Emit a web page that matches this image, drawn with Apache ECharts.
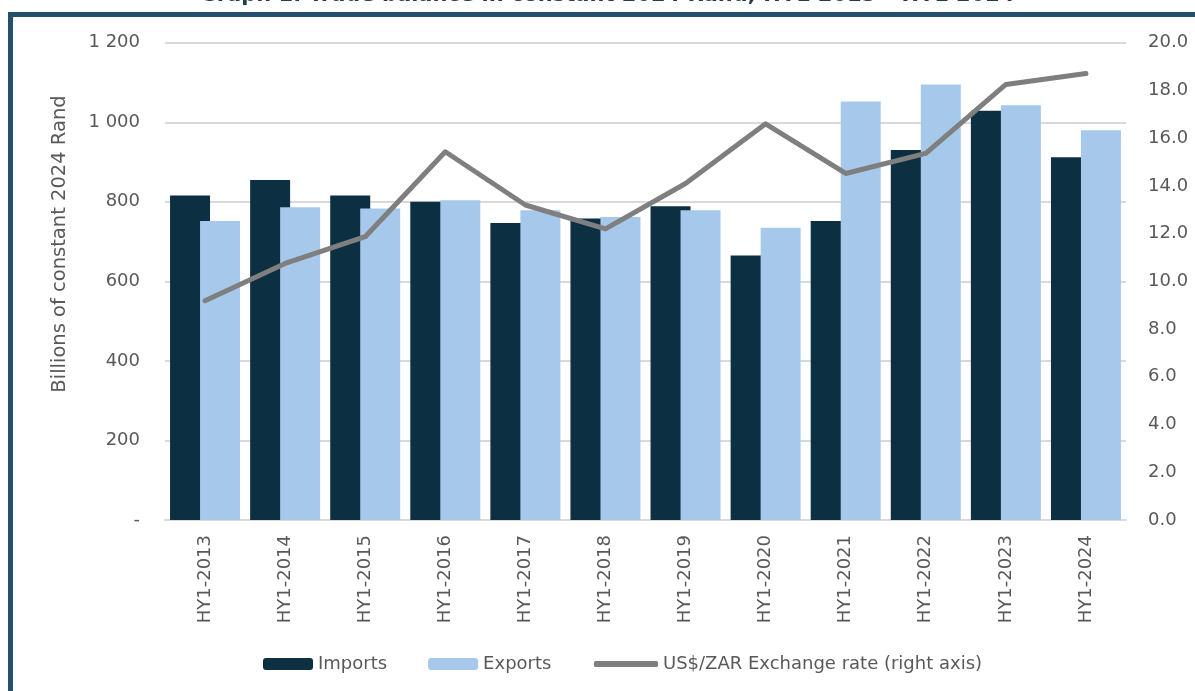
<!DOCTYPE html>
<html>
<head>
<meta charset="utf-8">
<script src="https://cdn.jsdelivr.net/npm/echarts@6/dist/echarts.min.js"></script>
<style>
html,body{margin:0;padding:0;background:#fff;}
#chart{width:1195px;height:691px;}
</style>
</head>
<body>
<div id="chart"></div>
<script>
var categories = ['HY1-2013','HY1-2014','HY1-2015','HY1-2016','HY1-2017','HY1-2018','HY1-2019','HY1-2020','HY1-2021','HY1-2022','HY1-2023','HY1-2024'];
var imports = [816, 855, 816, 800, 747, 758, 789, 665, 752, 930, 1029, 912];
var exports = [752, 786, 783, 804, 779, 762, 779, 735, 1052, 1095, 1043, 980];
var exchangeRate = [9.19, 10.75, 11.87, 15.43, 13.2, 12.2, 14.1, 16.6, 14.52, 15.36, 18.25, 18.71];
var titleText = 'Graph 1: Trade balance in constant 2024 Rand, HY1 2013 \u2013 HY1 2024';
var yAxisName = 'Billions of constant 2024 Rand';
var lineName = 'US$/ZAR Exchange rate (right axis)';

var FONT = 'DejaVu Sans';
var LABEL = '#595959';
var chart = echarts.init(document.getElementById('chart'));
chart.setOption({
  animation: false,
  backgroundColor: '#ffffff',
  textStyle: {fontFamily: FONT},
  graphic: [
    {type: 'rect', z: 100, silent: true,
     shape: {x: 10.5, y: 14.5, width: 1400, height: 900},
     style: {fill: 'none', stroke: '#23506a', lineWidth: 5}},
    {type: 'text', z: 100, x: 607, y: 6,
     style: {text: titleText, fontFamily: FONT, fontWeight: 'bold', fontSize: 21,
             fill: '#203e52', textAlign: 'center', textVerticalAlign: 'bottom'}},
    {type: 'text', z: 100, x: 60, y: 244, rotation: Math.PI / 2,
     style: {text: yAxisName, fontFamily: FONT, fontSize: 19.5,
             fill: LABEL, textAlign: 'center', textVerticalAlign: 'middle'}}
  ],
  grid: {left: 165, right: 69, top: 42.7, bottom: 171, containLabel: false},
  legend: [
    {data: ['Imports', 'Exports'], left: 258, top: 650, itemWidth: 50, itemHeight: 12,
     itemGap: 41, textStyle: {color: LABEL, fontSize: 18, fontFamily: FONT}},
    {data: [{name: lineName, icon: 'roundRect'}], left: 589, top: 650, itemWidth: 64, itemHeight: 6,
     itemStyle: {color: '#7f7f7f', borderWidth: 0},
     textStyle: {color: LABEL, fontSize: 18, fontFamily: FONT}}
  ],
  xAxis: {
    type: 'category', data: categories,
    axisLine: {lineStyle: {color: '#d9d9d9', width: 2}},
    axisTick: {show: false},
    axisLabel: {rotate: 90, color: LABEL, fontSize: 18, margin: 15, fontFamily: FONT}
  },
  yAxis: [
    {type: 'value', min: 0, max: 1200, interval: 200,
     axisLine: {show: false}, axisTick: {show: false},
     splitLine: {lineStyle: {color: '#d9d9d9', width: 2}},
     axisLabel: {color: LABEL, fontSize: 18, margin: 25, fontFamily: FONT,
       formatter: function (v) { return v === 0 ? '-' : String(v).replace(/\B(?=(\d{3})+(?!\d))/g, ' '); }}},
    {type: 'value', min: 0, max: 20, interval: 2, position: 'right',
     axisLine: {show: false}, axisTick: {show: false}, splitLine: {show: false},
     axisLabel: {color: LABEL, fontSize: 18, margin: 22, fontFamily: FONT,
       formatter: function (v) { return v.toFixed(1); }}}
  ],
  series: [
    {name: 'Imports', type: 'bar', data: imports, barWidth: 40, barGap: '-25%',
     itemStyle: {color: '#0c2f42'}},
    {name: 'Exports', type: 'bar', data: exports, barWidth: 40, barGap: '-25%',
     itemStyle: {color: '#a6c9eb'}},
    {name: lineName, type: 'line', yAxisIndex: 1, data: exchangeRate,
     symbol: 'none', z: 5,
     lineStyle: {color: '#7f7f7f', width: 5, cap: 'round', join: 'round'},
     itemStyle: {color: '#7f7f7f'}}
  ]
});
</script>
</body>
</html>
